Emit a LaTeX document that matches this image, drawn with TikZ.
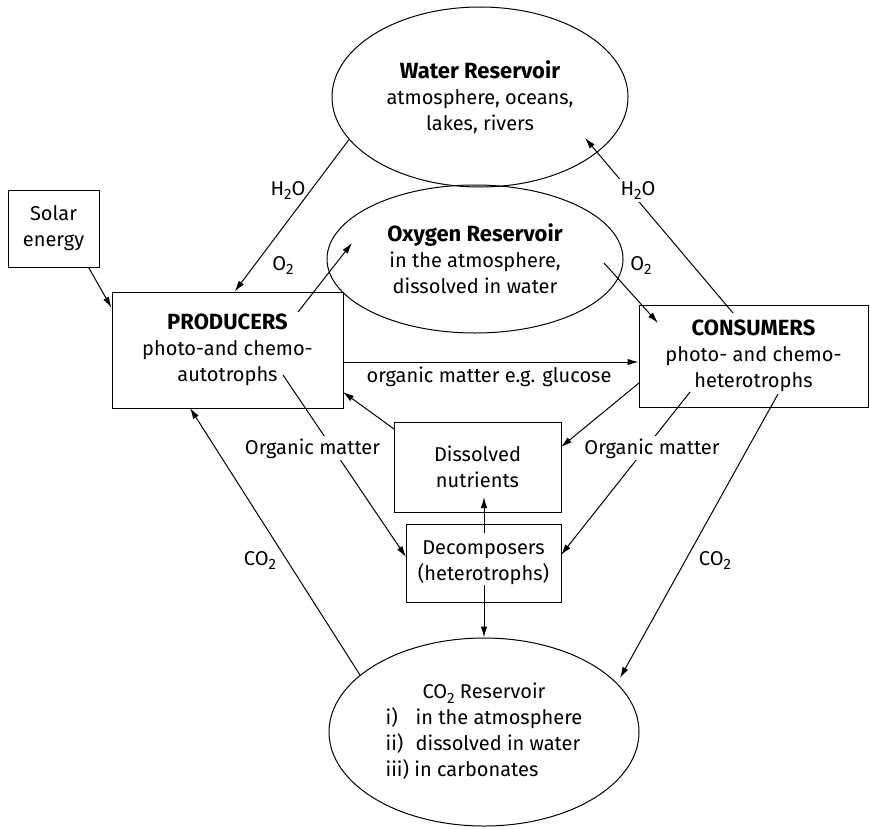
\documentclass[tikz,border=0pt]{standalone}
\usepackage{fontspec}
\setmainfont{Fira Sans}
\usetikzlibrary{shapes.geometric, arrows.meta, calc}

\newcommand{\heading}[1]{\textbf{\fontsize{11}{13}\selectfont #1}}
\newcommand{\lowsub}[1]{\raisebox{-2.4pt}{\fontsize{7.5}{9}\selectfont #1}}

\begin{document}
\begin{tikzpicture}[
    x=0.5pt, y=-0.5pt,
    every node/.style={font=\fontsize{10}{13}\selectfont, inner sep=1pt},
    reservoir/.style={draw, ellipse, line width=0.5pt, inner sep=0pt, align=center},
    organism/.style={draw, rectangle, line width=0.5pt, inner sep=0pt, align=center},
    flow/.style={draw, line width=0.5pt, -{Latex[length=5.5pt, width=3.2pt]}},
    flowlabel/.style={anchor=base},
]
    \useasboundingbox (0,0) rectangle (870,829);

    % reservoirs
    \node[reservoir, minimum width=148pt, minimum height=90pt] (water) at (480,97)
        {\heading{Water Reservoir}\\ atmosphere, oceans,\\ lakes, rivers};
    \node[reservoir, minimum width=148pt, minimum height=74pt] (oxygen) at (475,259)
        {\heading{Oxygen Reservoir}\\ in the atmosphere,\\ dissolved in water};
    \node[reservoir, minimum width=155pt, minimum height=94pt] (co2) at (484,732)
        {\begin{tabular}{@{}l@{}}
            \multicolumn{1}{c}{CO\lowsub{2} Reservoir}\\
            \makebox[1.5em][l]{i)}in the atmosphere\\
            \makebox[1.5em][l]{ii)}dissolved in water\\
            iii) in carbonates
         \end{tabular}};

    % organisms and pools
    \node[organism, minimum width=45.5pt, minimum height=38.5pt] (solar) at (53.5,228.5)
        {Solar\\ energy};
    \node[organism, minimum width=115.5pt, minimum height=58pt] (prod) at (227.5,350)
        {\heading{PRODUCERS}\\ photo-and chemo-\\ autotrophs};
    \node[organism, minimum width=114.5pt, minimum height=51pt] (cons) at (753.5,356)
        {\heading{CONSUMERS}\\ photo- and chemo-\\ heterotrophs};
    \node[organism, minimum width=83.5pt, minimum height=45pt] (nutr) at (477.5,467)
        {Dissolved\\ nutrients};
    \node[organism, minimum width=77.5pt, minimum height=39pt] (decomp) at (483.5,563)
        {Decomposers\\ (heterotrophs)};

    % flows
    \draw[flow] (solar.-48) -- (prod.160);
    \draw[flow] (water.198) -- (prod.83);
    \draw[flow] ($(prod.center)+(70.5,-38)$) -- ($(oxygen.center)+(-123,-16)$);
    \draw[flow] ($(oxygen.center)+(129,4)$) -- ($(cons.center)+(-95.5,-33)$);
    \draw[flow] ($(cons.center)+(-20.5,-43)$) -- ($(water.center)+(105,41)$);
    \draw[flow] ($(prod.east)+(0,12)$) -- ($(cons.west)+(0,6)$);
    \draw[flow] ($(nutr.center)+(-83.5,-38)$) -- ($(prod.center)+(115.5,42)$);
    \draw[flow] ($(prod.center)+(55.5,25)$) -- ($(decomp.center)+(-77.5,-6)$);
    \draw[flow] ($(cons.center)+(-114.5,27)$) -- ($(nutr.center)+(83.5,-20)$);
    \draw[flow] ($(cons.center)+(-63.5,36)$) -- ($(decomp.center)+(77.5,-8)$);
    \draw[flow] ($(cons.center)+(24.5,38)$) -- ($(co2.center)+(136,-54)$);
    \draw[flow] ($(co2.center)+(-124,-57)$) -- ($(prod.center)+(-37.5,58)$);
    \draw[flow] ($(decomp.center)+(0.5,-30)$) -- ($(nutr.center)+(6.5,30)$);
    \draw[flow] ($(decomp.center)+(0.5,22)$) -- (co2.north);

    % flow labels
    \node[flowlabel] (h2oup) at (288,195) {H\lowsub{2}O};
    \node[flowlabel] (o2up) at (283,270) {O\lowsub{2}};
    \node[flowlabel] (o2down) at (641,270) {O\lowsub{2}};
    \node[flowlabel, fill=white] (h2odown) at (638,195) {H\lowsub{2}O};
    \node[flowlabel] (glucose) at (489,382) {organic matter e.g. glucose};
    \node[flowlabel, fill=white] (orgleft) at (312.5,454) {Organic matter};
    \node[flowlabel, fill=white] (orgright) at (652,454) {Organic matter};
    \node[flowlabel] (co2right) at (715,565) {CO\lowsub{2}};
    \node[flowlabel] (co2left) at (260,565) {CO\lowsub{2}};
\end{tikzpicture}
\end{document}
